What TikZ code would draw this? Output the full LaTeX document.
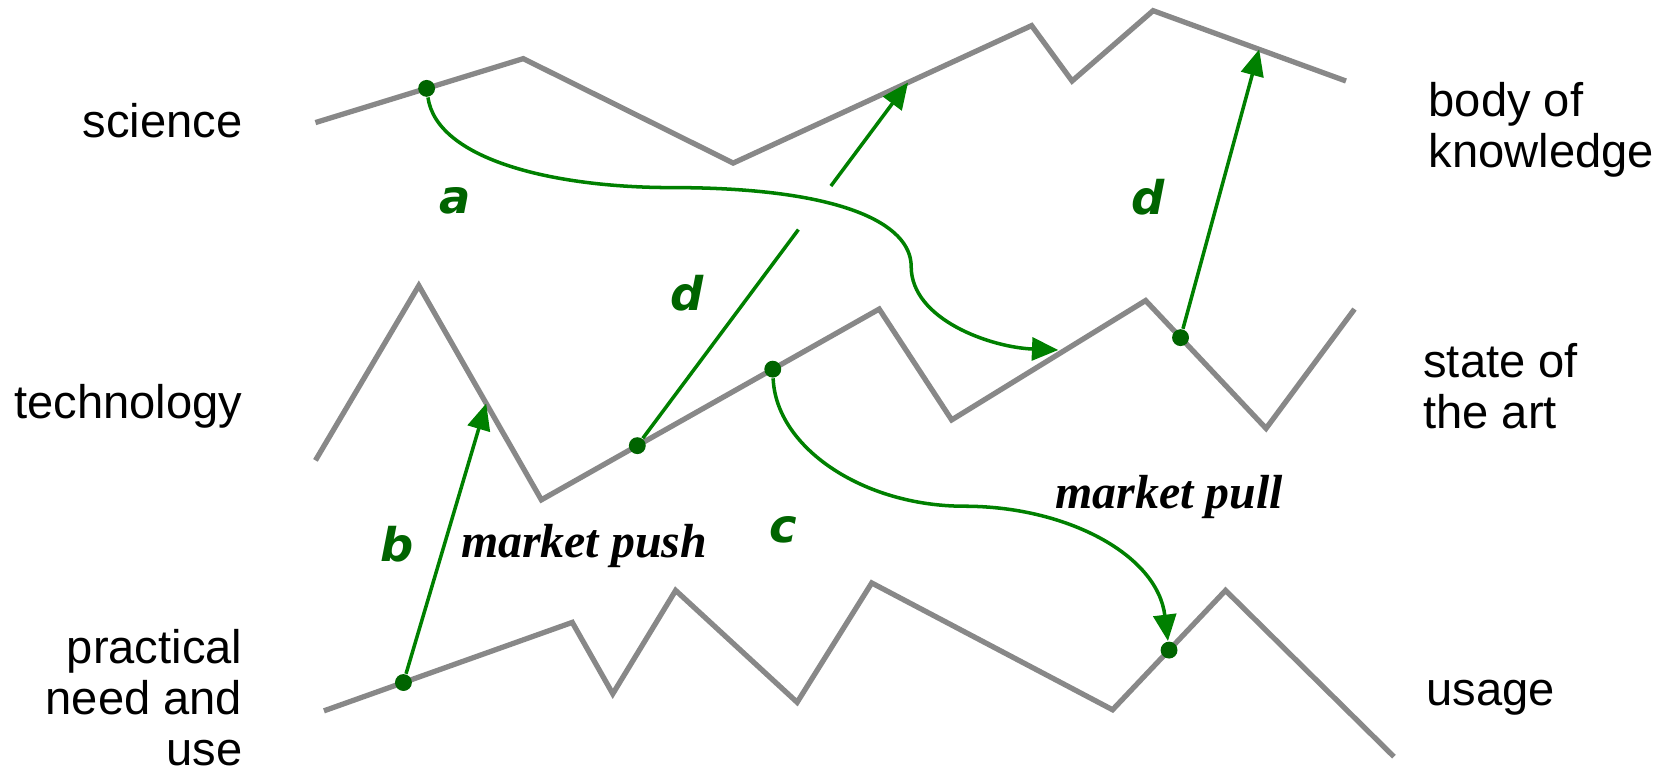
\documentclass[tikz,border=0pt]{standalone}
\usepackage{fontspec}
\setmainfont{Liberation Sans}
\newfontfamily\mserif{Liberation Serif}
\newfontfamily\dvsans{DejaVu Sans}
\usetikzlibrary{arrows.meta,calc}
\definecolor{lgray}{RGB}{136,136,136}
\definecolor{agreen}{RGB}{0,128,0}
\definecolor{dgreen}{RGB}{0,100,0}
\begin{document}
\begin{tikzpicture}[x=0.010657cm,y=-0.010657cm,
  gline/.style={draw=lgray,line width=1.5pt,line join=miter},
  garrow/.style={draw=agreen,line width=1pt,-{Triangle[length=7.5pt,width=6.5pt]}},
  gplain/.style={draw=agreen,line width=1pt},
  gdot/.style={circle,fill=dgreen,inner sep=0pt,minimum size=4.8pt},
  side/.style={inner sep=0pt,font=\fontsize{13.4}{14.5}\selectfont},
  letter/.style={inner sep=0pt,text=dgreen,font=\dvsans\bfseries\itshape\fontsize{13.2}{15}\selectfont},
  mlabel/.style={inner sep=0pt,font=\mserif\bfseries\itshape\fontsize{13.6}{15}\selectfont}]
\useasboundingbox (0,0) rectangle (1568,721);
% science line
\coordinate (s1) at (296,115);
\coordinate (s2) at (491,55);
\coordinate (s3) at (688,153);
\coordinate (s4) at (968,24);
\coordinate (s5) at (1006,76);
\coordinate (s6) at (1082,10);
\coordinate (s7) at (1263,76);
\draw[gline] (s1) -- (s2) -- (s3) -- (s4) -- (s5) -- (s6) -- (s7);
% technology line
\coordinate (m1) at (296,432);
\coordinate (m2) at (393,268);
\coordinate (m3) at (508,469);
\coordinate (m4) at (825,290);
\coordinate (m5) at (893,394);
\coordinate (m6) at (1075,282);
\coordinate (m7) at (1188,402);
\coordinate (m8) at (1271,290);
\draw[gline] (m1) -- (m2) -- (m3) -- (m4) -- (m5) -- (m6) -- (m7) -- (m8);
% usage line
\coordinate (u1) at (304,667);
\coordinate (u2) at (537,584);
\coordinate (u3) at (575,651);
\coordinate (u4) at (634,554);
\coordinate (u5) at (748,659);
\coordinate (u6) at (818,547);
\coordinate (u7) at (1044,666);
\coordinate (u8) at (1150,554);
\coordinate (u9) at (1308,710);
\draw[gline] (u1) -- (u2) -- (u3) -- (u4) -- (u5) -- (u6) -- (u7) -- (u8) -- (u9);
% arrow targets
\coordinate (dLtip) at ($(s3)!0.586!(s4)$);
\coordinate (dRtip) at ($(s6)!0.55!(s7)$);
\coordinate (btip) at ($(m2)!0.55!(m3)$);
\coordinate (atip) at ($(m5)!0.55!(m6)+(0,-4)$);
% dots
\node[gdot] (da) at ($(s1)!0.535!(s2)$) {};
\node[gdot] (dd) at ($(m3)!0.284!(m4)$) {};
\node[gdot] (dc) at ($(m3)!0.685!(m4)$) {};
\node[gdot] (dr) at ($(m6)!0.29!(m7)$) {};
\node[gdot] (db) at ($(u1)!0.32!(u2)$) {};
\node[gdot] (dce) at ($(u7)!0.5!(u8)$) {};
\coordinate (gapA) at ($(dd)!0.595!(dLtip)$);
\coordinate (gapB) at ($(dd)!0.715!(dLtip)$);
% connectors
\draw[garrow] (da) .. controls (410,150) and (520,176) .. (630,176)
  .. controls (790,176) and (855,210) .. (855,250)
  .. controls (855,300) and (930,326) .. (atip);
\draw[gplain] (dd) -- (gapA);
\draw[garrow] (gapB) -- (dLtip);
\draw[garrow] (dr) -- (dRtip);
\draw[garrow] (db) -- (btip);
\draw[garrow] (dc) .. controls (728,420) and (810,475) .. (905,475)
  .. controls (1000,475) and (1086,520) .. (dce);
% labels
\node[side,anchor=base east] (lsci) at (228,129) {science};
\node[side,anchor=base east] (ltec) at (228,393) {technology};
\node[side,anchor=east,align=right] (lprac) at (228,655) {practical\\need and\\use};
\node[side,anchor=west,align=left] (lbody) at (1340,122) {body of\\knowledge};
\node[side,anchor=west,align=left] (lstate) at (1335,362) {state of\\the art};
\node[side,anchor=base west] (lusage) at (1338,662) {usage};
\node[letter] (la) at (427,188) {a};
\node[letter] (ld1) at (645,275) {d};
\node[letter] (ld2) at (1077,185) {d};
\node[letter] (lb) at (373,511) {b};
\node[letter] (lc) at (735,497) {c};
\node[mlabel] (lpush) at (548,512) {market push};
\node[mlabel] (lpull) at (1097,466) {market pull};
\end{tikzpicture}
\end{document}
